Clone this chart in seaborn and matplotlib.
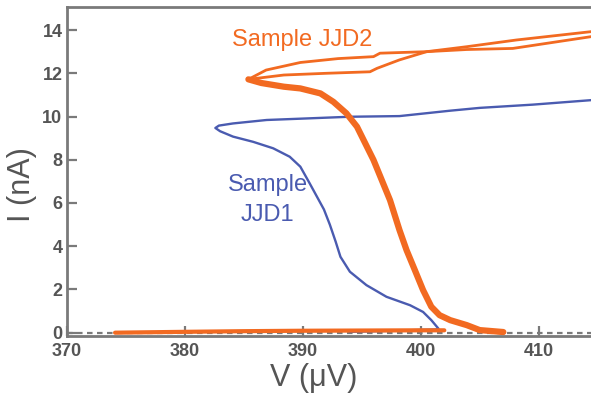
import numpy as np
import pandas as pd
import matplotlib
matplotlib.use("Agg")
import matplotlib.pyplot as plt
import seaborn as sns

# Sample JJD1 (blue): bottom branch, return branch, switching tip, upper branch
jjd1_v = [394.0, 397.0, 400.0, 401.5, 401.5, 400.9, 400.2, 399.1, 397.1, 395.4, 394.0,
          393.2, 392.8, 392.3, 391.8, 391.2, 390.6, 389.8, 388.9, 387.5, 385.8, 384.1,
          383.0, 382.6, 382.9, 384.1, 386.95, 389.8, 394.0, 398.2, 402.5, 405.0, 409.5,
          414.5]
jjd1_i = [0.04, 0.08, 0.13, 0.15, 0.19, 0.58, 0.96, 1.27, 1.66, 2.2, 2.82,
          3.51, 4.2, 5.0, 5.7, 6.3, 6.9, 7.68, 8.14, 8.53, 8.83, 9.07,
          9.32, 9.47, 9.58, 9.68, 9.84, 9.9, 9.99, 10.02, 10.27, 10.4, 10.55,
          10.76]

# Sample JJD2 (orange): bottom sweep
jjd2_bot_v = [374.1, 380.0, 385.0, 390.0, 395.0, 400.0, 402.0]
jjd2_bot_i = [0.0, 0.04, 0.07, 0.09, 0.1, 0.11, 0.11]

# Sample JJD2: noisy descending branch from the tip down to zero
jjd2_dn_v = [385.4, 386.5, 388.4, 389.8, 391.5, 392.6, 393.7, 394.6, 395.3, 396.0,
             396.7, 397.4, 398.2, 398.8, 399.5, 400.2, 400.9, 401.6, 402.5,
             403.9, 405.0, 407.0]
jjd2_dn_i = [11.72, 11.55, 11.38, 11.3, 11.07, 10.68, 10.15, 9.53, 8.76, 7.99,
             7.06, 6.13, 4.75, 3.82, 2.9, 1.97, 1.2, 0.81, 0.58,
             0.35, 0.12, 0.03]

# Sample JJD2: upper loop, two branches from the tip
jjd2_up_v = [385.4, 386.9, 389.8, 393.0, 396.0, 396.55, 400.5, 403.9, 408.1, 414.5]
jjd2_up_i = [11.72, 12.15, 12.5, 12.68, 12.77, 12.93, 13.0, 13.23, 13.54, 13.93]
jjd2_lo_v = [385.4, 388.4, 392.0, 395.7, 396.3, 398.2, 400.5, 403.9, 407.8, 414.5]
jjd2_lo_i = [11.72, 11.92, 12.0, 12.07, 12.23, 12.62, 13.0, 13.1, 13.15, 13.7]

x_ticks = [370, 380, 390, 400, 410]
y_ticks = [0, 2, 4, 6, 8, 10, 12, 14]

BLUE = "#4a5bb0"
ORANGE = "#f26a21"
GREY = "#7a7a7a"
TEXT = "#555555"

sns.set_theme(style="ticks")
plt.rcParams["font.family"] = ["Liberation Sans", "DejaVu Sans"]

fig = plt.figure(figsize=(5.91, 3.95), dpi=100)
ax = fig.add_axes([0.1128, 0.149, 0.8872, 0.834])

ax.axhline(0, color=GREY, lw=1.6, ls=(0, (2.5, 2)), zorder=1)


def draw(v, i, color, lw, z):
    df = pd.DataFrame({"V": v, "I": i})
    sns.lineplot(data=df, x="V", y="I", sort=False, estimator=None, color=color,
                 lw=lw, ax=ax, zorder=z, solid_joinstyle="round", solid_capstyle="round")


draw(jjd2_bot_v, jjd2_bot_i, ORANGE, 3.0, 3)
draw(jjd1_v, jjd1_i, BLUE, 1.7, 2)
draw(jjd2_dn_v, jjd2_dn_i, ORANGE, 4.5, 3)
draw(jjd2_up_v, jjd2_up_i, ORANGE, 2.0, 3)
draw(jjd2_lo_v, jjd2_lo_i, ORANGE, 2.0, 3)

ax.set_xlim(370, 414.43)
ax.set_ylim(-0.16, 15.08)
ax.set_xticks(x_ticks)
ax.set_yticks(y_ticks)
ax.tick_params(direction="in", length=7, width=1.6, color=GREY, labelcolor=TEXT,
               labelsize=13)
ax.tick_params(axis="x", pad=5)
ax.tick_params(axis="y", pad=3)
for lab in ax.get_xticklabels() + ax.get_yticklabels():
    lab.set_fontweight("bold")
for s in ["left", "bottom", "top"]:
    ax.spines[s].set_color(GREY)
    ax.spines[s].set_linewidth(2)
ax.spines["right"].set_visible(False)

ax.set_xlabel("V (\u03bcV)", fontsize=22, color=TEXT, va="center", ha="center")
ax.set_ylabel("I (nA)", fontsize=22, color=TEXT, va="center", ha="center")
ax.xaxis.set_label_coords(0.472, -0.128)
ax.yaxis.set_label_coords(-0.085, 0.459)

ax.text(384.0, 13.54, "Sample JJD2", color=ORANGE, fontsize=17, va="center", ha="left")
ax.text(383.7, 6.83, "Sample", color=BLUE, fontsize=17, va="center", ha="left")
ax.text(384.7, 5.44, "JJD1", color=BLUE, fontsize=17, va="center", ha="left")

fig.savefig("out.png", dpi=100)
